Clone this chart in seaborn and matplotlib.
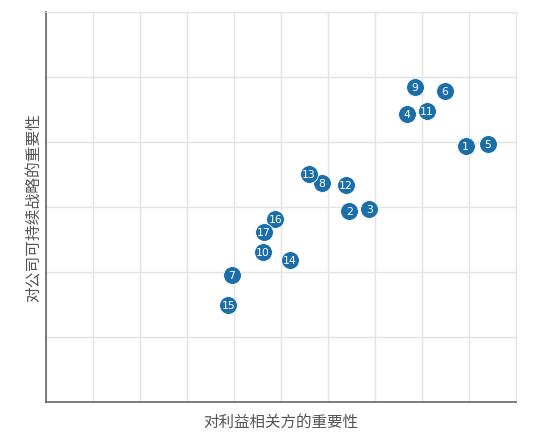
import seaborn as sns
import matplotlib.pyplot as plt
import pandas as pd

labels = ['1', '2', '3', '4', '5', '6', '7', '8', '9', '10', '11', '12', '13', '14', '15', '16', '17']
stakeholder = [8.93, 6.46, 6.88, 7.69, 9.40, 8.49, 3.96, 5.87, 7.85, 4.61, 8.10, 6.38, 5.60, 5.19, 3.88, 4.88, 4.64]
strategy = [3.93, 2.93, 2.97, 4.43, 3.97, 4.78, 1.96, 3.37, 4.84, 2.31, 4.48, 3.34, 3.50, 2.18, 1.49, 2.82, 2.62]

df = pd.DataFrame({'label': labels, 'x': stakeholder, 'y': strategy})

sns.set_style('whitegrid')
plt.rcParams['font.family'] = ['Noto Sans CJK SC', 'DejaVu Sans']

fig = plt.figure(figsize=(5.54, 4.35), dpi=100)
ax = fig.add_axes([0.083, 0.0736, 0.848, 0.897])

sns.scatterplot(data=df, x='x', y='y', ax=ax, s=165, color='#1c6ea8',
                edgecolor='white', linewidth=0.6, zorder=3)
for i, row in df.iterrows():
    ax.text(row['x'], row['y'], row['label'], color='white', fontsize=7.8,
            ha='center', va='center', zorder=4, family='DejaVu Sans')

ax.set_xlim(0, 10)
ax.set_ylim(0, 6)
ax.set_xticks(range(0, 11))
ax.set_yticks(range(0, 7))
ax.set_xticklabels([])
ax.set_yticklabels([])
ax.tick_params(length=0)
ax.grid(True, color='#e3e3e3', linewidth=1)
for side in ['top', 'right']:
    ax.spines[side].set_color('#e3e3e3')
for side in ['left', 'bottom']:
    ax.spines[side].set_color('#666666')
    ax.spines[side].set_linewidth(1.2)
ax.set_xlabel('对利益相关方的重要性', fontsize=11.2, color='#555555', labelpad=4)
ax.set_ylabel('对公司可持续战略的重要性', fontsize=11.3, color='#555555', labelpad=-1)

fig.savefig('out.png', dpi=100)
